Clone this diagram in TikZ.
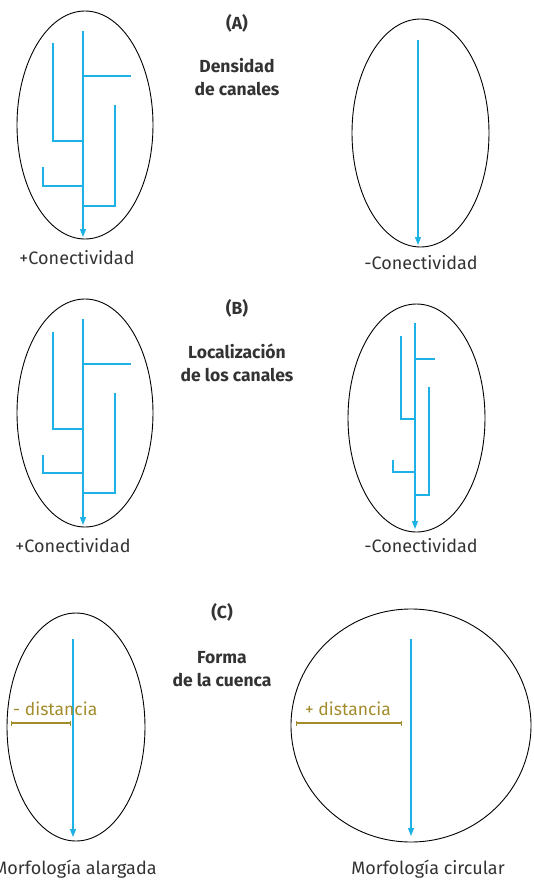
\documentclass[tikz,border=0pt]{standalone}
\usepackage{fontspec}
\setmainfont{Fira Sans}
\usetikzlibrary{arrows.meta,shapes.geometric}
\definecolor{chan}{HTML}{1EB1E6}
\definecolor{gold}{HTML}{A38C2C}
\definecolor{txt}{HTML}{333333}
\tikzset{
  basin/.style={draw=black, line width=0.9pt, ellipse, inner sep=0pt},
  river/.style={draw=chan, line width=1.3pt},
  trunk/.style={river, -{Triangle[length=8pt,width=6pt]}},
  lbl/.style={font=\fontsize{18}{21}\selectfont, text=txt, inner sep=0pt},
  head/.style={font=\fontsize{17.5}{23}\selectfont\bfseries, text=txt, align=center, inner sep=0pt},
  dist/.style={draw=gold, line width=1.1pt, {Bar[width=5pt]}-{Bar[width=5pt]}},
  distlbl/.style={font=\fontsize{17.5}{20}\selectfont, text=gold, inner sep=0pt}
}
\begin{document}
\begin{tikzpicture}[x=1pt,y=-1pt]
\useasboundingbox (0,0) rectangle (533,881);
% ---------- (A)
\node[basin, minimum width=136pt, minimum height=228pt] (a1) at (85,125) {};
\coordinate (a1t) at (83,31); \coordinate (a1b) at (83,237);
\draw[trunk] (a1t) -- (a1b);
\draw[river] (83,76) -- (131,76);
\draw[river] (53,43) -- (53,141) -- (83,141);
\draw[river] (115,105) -- (115,206) -- (83,206);
\draw[river] (43,167) -- (43,186) -- (83,186);
\node[lbl] (la1) at (77,258) {+Conectividad};

\node[basin, minimum width=137pt, minimum height=228pt] (a2) at (420.5,133) {};
\coordinate (a2t) at (418,40); \coordinate (a2b) at (418,245);
\draw[trunk] (a2t) -- (a2b);
\node[lbl] (la2) at (421,263) {-Conectividad};

\node[head] (ha) at (237,23) {(A)};
\node[head] (ta) at (237,77) {Densidad\\de canales};

% ---------- (B)
\node[basin, minimum width=136pt, minimum height=228pt] (b1) at (85,413) {};
\coordinate (b1t) at (83,319); \coordinate (b1b) at (83,525);
\draw[trunk] (b1t) -- (b1b);
\draw[river] (83,364) -- (131,364);
\draw[river] (53,332) -- (53,429) -- (83,429);
\draw[river] (115,393) -- (115,493) -- (83,493);
\draw[river] (43,455) -- (43,473) -- (83,473);
\node[lbl] (lb1) at (73,546) {+Conectividad};

\node[basin, minimum width=137pt, minimum height=228pt] (b2) at (416.5,418) {};
\coordinate (b2t) at (415,323); \coordinate (b2b) at (415,529);
\draw[trunk] (b2t) -- (b2b);
\draw[river] (415,359) -- (435,359);
\draw[river] (401,336) -- (401,419) -- (415,419);
\draw[river] (429,387) -- (429,495) -- (415,495);
\draw[river] (393,460) -- (393,472) -- (415,472);
\node[lbl] (lb2) at (421,546) {-Conectividad};

\node[head] (hb) at (237,308) {(B)};
\node[head] (tb) at (237,363) {Localización\\de los canales};

% ---------- (C)
\node[basin, minimum width=138pt, minimum height=228pt] (c1) at (76,727) {};
\coordinate (c1t) at (73,639); \coordinate (c1b) at (73,837);
\draw[trunk] (c1t) -- (c1b);
\coordinate (d1a) at (11,723); \coordinate (d1b) at (71,723);
\draw[dist] (d1a) -- (d1b);
\node[distlbl, anchor=west] (dl1) at (13,709) {- distancia};
\node[lbl] (lc1) at (75,869) {Morfología alargada};

\node[basin, minimum width=240pt, minimum height=233pt] (c2) at (411,725.5) {};
\coordinate (c2t) at (411,639); \coordinate (c2b) at (411,836);
\draw[trunk] (c2t) -- (c2b);
\coordinate (d2a) at (296,723); \coordinate (d2b) at (402,723);
\draw[dist] (d2a) -- (d2b);
\node[distlbl] (dl2) at (348,709) {+ distancia};
\node[lbl] (lc2) at (428,869) {Morfología circular};

\node[head] (hc) at (222,612) {(C)};
\node[head] (tc) at (222,669) {Forma\\de la cuenca};
\end{tikzpicture}
\end{document}
